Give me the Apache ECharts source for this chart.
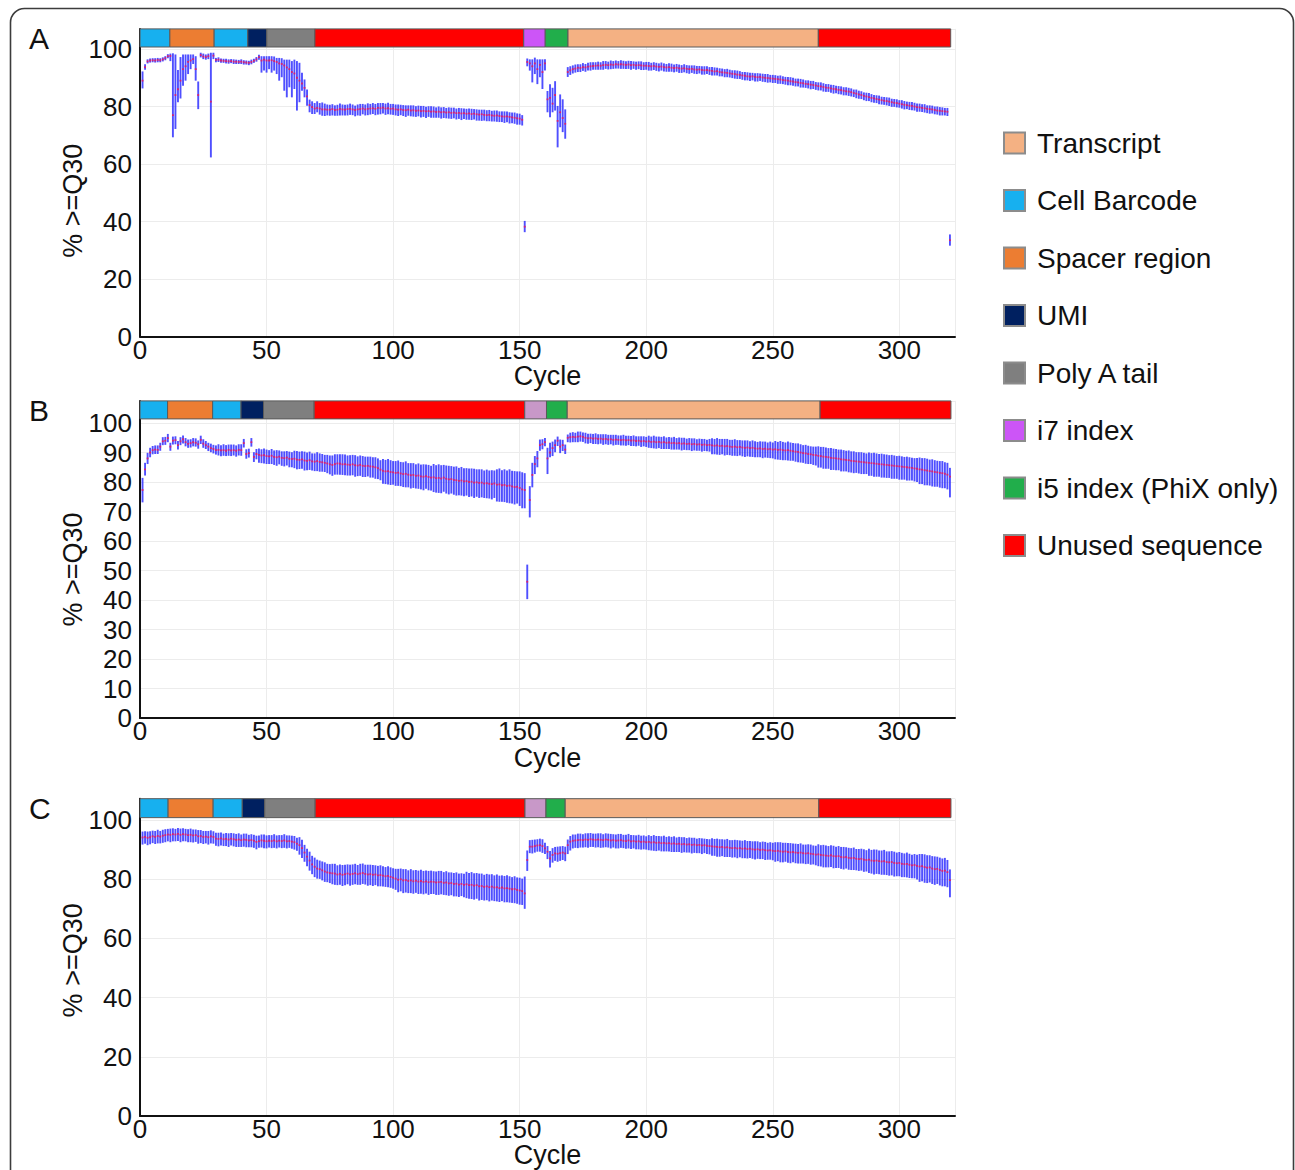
<!DOCTYPE html>
<html>
<head>
<meta charset="utf-8">
<script src="https://cdn.jsdelivr.net/npm/echarts@6/dist/echarts.min.js"></script>
<style>
  html, body { margin: 0; padding: 0; background: #fff; }
  #chart { width: 1295px; height: 1170px; }
</style>
</head>
<body>
<div id="chart"></div>
<script>
// --- data: per cycle median, and distance up / down to the whisker ends ---

// Panel A
var aMid = [
  89, 93.7, 95.7, 96, 96.1, 96, 96.2, 96.1, 96.4, 96.8,
  97.5, 97.6, 77, 84, 86, 89, 93, 94, 95.5, 96,
  96.5, 93, 84, 97.9, 97.4, 97.2, 97.5, 81.7, 97.7, 96.2,
  96.3, 96, 95.9, 95.8, 95.7, 95.8, 95.6, 95.6, 95.5, 95.6,
  95.4, 95.3, 95.2, 95.5, 95.9, 96.4, 97.2, 96, 96.3, 96,
  96, 96.1, 95.8, 95.5, 95, 94.8, 94.3, 93.6, 93, 92,
  91.5, 90, 89, 88, 86.5, 83.5, 80.5, 79.8, 79.3, 79.5,
  79.3, 79, 79, 78.9, 78.9, 79.1, 78.8, 78.9, 79.2, 79,
  78.9, 79.1, 79.2, 79, 78.8, 79, 79.1, 79.3, 79, 79.2,
  79.3, 79.4, 79.2, 79.5, 79.4, 79.6, 79.3, 79.4, 79.2, 79.3,
  79, 78.9, 79, 78.8, 78.7, 78.9, 78.6, 78.7, 78.5, 78.6,
  78.4, 78.5, 78.3, 78.4, 78.2, 78.3, 78.1, 78.2, 78, 78.1,
  77.9, 78, 77.8, 77.9, 77.7, 77.8, 77.6, 77.7, 77.5, 77.6,
  77.4, 77.5, 77.3, 77.2, 77.3, 77.1, 77, 77.1, 76.9, 76.8,
  76.9, 76.7, 76.6, 76.5, 76.6, 76.4, 76.2, 76.1, 75.9, 75.8,
  75.4, 38.2, 95.5, 95, 94, 95, 93, 94.5, 92, 95,
  82.5, 83, 81, 84, 75, 78, 76, 74, 92, 92.6,
  93, 93.2, 93.5, 93.4, 93.7, 93.6, 93.9, 94, 94.1, 94.2,
  94.3, 94.2, 94.4, 94.5, 94.4, 94.6, 94.5, 94.7, 94.6, 94.7,
  94.6, 94.5, 94.6, 94.4, 94.5, 94.3, 94.4, 94.3, 94.2, 94.2,
  94.1, 94, 94.1, 93.9, 93.8, 93.9, 93.7, 93.6, 93.7, 93.5,
  93.4, 93.5, 93.3, 93.2, 93.3, 93.1, 93, 93.1, 92.9, 92.8,
  92.9, 92.7, 92.6, 92.7, 92.5, 92.4, 92.2, 92.3, 92, 91.9,
  91.8, 91.7, 91.5, 91.4, 91.3, 91.1, 91, 90.8, 90.7, 90.5,
  90.4, 90.5, 90.3, 90.2, 90.3, 90.1, 90, 89.9, 89.8, 89.7,
  89.6, 89.5, 89.4, 89.2, 89.1, 89, 88.8, 88.7, 88.5, 88.4,
  88.2, 88.1, 87.9, 87.8, 87.6, 87.5, 87.3, 87.1, 87, 86.8,
  86.6, 86.5, 86.3, 86.1, 86, 85.8, 85.7, 85.5, 85.3, 85.2,
  85, 84.7, 84.5, 84.2, 84, 83.7, 83.5, 83.3, 83, 82.8,
  82.6, 82.4, 82.2, 82, 81.9, 81.7, 81.5, 81.3, 81.2, 81,
  80.8, 80.6, 80.5, 80.3, 80.2, 80, 79.8, 79.7, 79.5, 79.4,
  79.2, 79.1, 79, 78.8, 78.6, 78.5, 78.4, 78.3, 78.2, 33.5
];
var aUp = [
  3.0,0.8,0.5,0.5,0.5,0.6,0.5,0.5,0.5,0.5, 0.5,0.6,21.3,13.9,6.5,8.0,4.9,3.9,2.4,1.9,
  1.4,4.3,4.5,0.6,0.8,0.7,0.7,16.8,0.8,0.5, 0.6,0.5,0.5,0.6,0.5,0.5,0.6,0.5,0.5,0.6,
  0.5,0.5,0.5,0.6,0.5,0.6,0.6,1.3,1.0,1.3, 1.3,1.2,1.4,1.2,1.7,1.8,1.8,2.5,3.1,3.6,
  4.6,5.6,6.0,3.5,2.7,2.2,1.7,1.8,1.7,2.1, 1.7,2.2,1.8,1.6,1.5,1.5,1.4,1.5,1.6,1.5,
  1.5,1.4,1.6,1.5,1.3,1.5,1.6,1.4,1.5,1.7, 1.4,1.6,1.5,1.5,1.6,1.4,1.5,1.7,1.5,1.4,
  1.5,1.6,1.4,1.5,1.5,1.3,1.6,1.5,1.4,1.5, 1.6,1.5,1.4,1.5,1.7,1.5,1.4,1.6,1.5,1.5,
  1.4,1.5,1.6,1.5,1.4,1.5,1.6,1.4,1.5,1.5, 1.6,1.4,1.5,1.5,1.4,1.6,1.5,1.5,1.4,1.6,
  1.5,1.4,1.5,1.6,1.5,1.4,1.5,1.6,1.5,1.5, 1.4,1.8,1.0,1.2,2.2,1.8,3.2,1.7,4.2,1.2,
  2.7,4.5,5.3,4.6,5.0,6.0,6.3,4.8,1.5,1.2, 1.1,1.2,1.0,1.1,1.2,1.0,1.1,1.2,1.1,1.0,
  1.1,1.0,1.2,1.1,1.0,1.2,1.1,1.1,1.0,1.2, 1.1,1.0,1.1,1.2,1.0,1.1,1.1,1.2,1.0,1.1,
  1.2,1.0,1.1,1.1,1.0,1.2,1.1,1.0,1.1,1.2, 1.0,1.1,1.1,1.0,1.2,1.1,1.1,1.0,1.2,1.1,
  1.0,1.1,1.2,1.1,1.0,1.1,1.2,1.0,1.1,1.1, 1.0,1.2,1.1,1.0,1.1,1.2,1.1,1.0,1.1,1.2,
  1.1,1.0,1.1,1.2,1.0,1.1,1.1,1.2,1.0,1.1, 1.1,1.0,1.2,1.1,1.0,1.1,1.2,1.1,1.0,1.1,
  1.2,1.1,1.0,1.1,1.1,1.2,1.0,1.1,1.2,1.1, 1.0,1.1,1.1,1.2,1.0,1.1,1.1,1.0,1.2,1.1,
  1.1,1.0,1.2,1.1,1.1,1.0,1.1,1.2,1.1,1.0, 1.1,1.2,1.0,1.1,1.1,1.2,1.0,1.1,1.1,1.0,
  1.2,1.1,1.0,1.1,1.2,1.1,1.0,1.1,1.1,1.2, 1.0,1.1,1.1,1.0,1.2,1.1,1.1,1.0,1.1,1.8
];
var aDn = [
  2.5,0.7,0.5,0.5,0.5,0.5,0.6,0.5,0.5,0.5, 0.5,1.6,7.5,11.6,4.3,6.0,5.6,4.8,4.0,2.8,
  1.5,3.8,4.7,0.6,0.7,0.7,0.8,19.2,1.0,0.6, 0.6,0.6,0.5,0.6,0.6,0.5,0.6,0.6,0.5,0.6,
  0.6,0.5,0.6,0.6,0.5,0.6,0.7,4.0,3.6,4.0, 2.8,4.1,3.1,4.0,5.8,4.4,8.6,10.2,6.1,8.6,
  5.2,11.2,7.3,2.3,3.1,3.0,2.3,2.2,1.7,1.3, 1.9,2.0,2.1,1.8,1.9,2.0,1.8,1.9,2.1,1.9,
  1.8,2.0,1.9,1.8,2.0,1.9,2.1,1.8,1.9,2.0, 1.9,1.8,2.0,2.1,1.9,1.8,2.0,1.9,1.8,2.0,
  1.9,2.0,1.8,1.9,2.1,1.9,1.8,2.0,1.9,1.8, 2.0,1.9,2.1,1.8,1.9,2.0,1.8,1.9,2.0,1.9,
  1.8,2.0,1.9,1.8,2.0,1.9,2.1,1.8,1.9,2.0, 1.9,1.8,2.0,1.9,2.1,1.8,1.9,2.0,1.9,1.8,
  2.0,1.9,1.8,2.0,1.9,2.1,1.8,1.9,2.0,1.9, 1.8,1.7,1.3,2.3,5.4,3.5,5.0,4.1,5.7,2.3,
  4.3,6.5,2.8,5.2,9.0,5.0,4.7,5.0,1.5,1.4, 1.3,1.2,1.3,1.2,1.1,1.3,1.2,1.3,1.1,1.2,
  1.3,1.2,1.4,1.2,1.3,1.4,1.2,1.3,1.2,1.4, 1.3,1.2,1.3,1.4,1.2,1.3,1.2,1.4,1.3,1.2,
  1.4,1.3,1.2,1.3,1.4,1.2,1.3,1.3,1.4,1.2, 1.3,1.2,1.4,1.3,1.2,1.3,1.4,1.2,1.3,1.3,
  1.2,1.4,1.3,1.2,1.3,1.4,1.2,1.3,1.3,1.2, 1.4,1.3,1.2,1.3,1.4,1.3,1.2,1.3,1.4,1.2,
  1.3,1.2,1.4,1.3,1.2,1.3,1.3,1.4,1.2,1.3, 1.2,1.4,1.3,1.2,1.3,1.4,1.2,1.3,1.3,1.2,
  1.4,1.3,1.2,1.3,1.4,1.2,1.3,1.3,1.2,1.4, 1.3,1.2,1.3,1.4,1.2,1.3,1.3,1.4,1.2,1.3,
  1.3,1.2,1.4,1.3,1.2,1.3,1.4,1.2,1.3,1.3, 1.2,1.4,1.3,1.2,1.3,1.3,1.4,1.2,1.3,1.2,
  1.3,1.4,1.2,1.3,1.3,1.2,1.4,1.3,1.2,1.3, 1.3,1.4,1.2,1.3,1.2,1.4,1.3,1.2,1.3,1.7
];

// Panel B
var bMid = [
  77.3, 84.3, 88, 90, 90.8, 91, 90.9, 92, 93.8, 94,
  94.9, 92, 94, 94.2, 92.5, 93.8, 94.5, 93.5, 92.9, 93.2,
  93.5, 93.3, 92.8, 94.3, 93, 92.5, 92, 91.5, 91.2, 90.8,
  90.9, 90.7, 90.8, 90.6, 90.9, 90.7, 90.8, 90.6, 90.9, 90.8,
  93.2, 89.5, 89.8, 93.5, 88.5, 89.5, 89.2, 89, 89.1, 88.8,
  88.7, 88.9, 88.5, 88.4, 88.6, 88.2, 88.1, 88.3, 87.9, 87.8,
  87.9, 87.6, 87.5, 87.7, 87.3, 87.2, 87.4, 87, 86.9, 87.1,
  86.8, 86.7, 86.5, 86.3, 86, 85.8, 86.1, 86.3, 86.2, 86,
  86.1, 85.9, 85.8, 86, 85.7, 85.6, 85.8, 85.5, 85.4, 85.5,
  85.3, 85.2, 85, 84.7, 84.2, 83.8, 83.6, 83.7, 83.4, 83.3,
  83.1, 83.2, 82.9, 82.7, 82.8, 82.5, 82.3, 82.4, 82.1, 82.2,
  81.9, 81.8, 82, 81.7, 81.5, 81.6, 81.3, 81.4, 81.2, 81.5,
  81.1, 80.9, 81, 80.7, 80.6, 80.4, 80.5, 80.2, 80.3, 80,
  80.1, 79.8, 79.9, 79.7, 79.8, 79.5, 79.6, 79.4, 79.3, 79.5,
  79.1, 79.2, 78.9, 79, 78.7, 78.8, 78.5, 78.3, 78.4, 78,
  77.5, 77.3, 46.2, 73.9, 82.4, 86.1, 88, 92.5, 92.8, 93.5,
  88, 90, 91.5, 92.5, 94, 92, 92.5, 91, 95, 95.2,
  95.3, 95.2, 95.4, 95.5, 95.3, 95, 94.8, 94.9, 94.7, 94.8,
  94.6, 94.7, 94.5, 94.6, 94.4, 94.5, 94.3, 94.4, 94.3, 94.2,
  94.3, 94.1, 94.2, 94, 94.1, 93.9, 94, 93.8, 93.9, 93.7,
  93.8, 93.6, 93.7, 93.5, 93.6, 93.4, 93.5, 93.3, 93.4, 93.2,
  93.3, 93.1, 93.2, 93, 93.1, 92.9, 93, 92.8, 92.9, 92.7,
  92.8, 92.6, 92.7, 92.5, 92.6, 92.4, 92.3, 92.4, 92.2, 92.3,
  92.1, 92.2, 92, 91.9, 92, 91.8, 91.9, 91.7, 91.6, 91.7,
  91.5, 91.6, 91.4, 91.3, 91.4, 91.2, 91.3, 91.1, 91.2, 91,
  91.1, 90.9, 91, 90.8, 90.7, 90.8, 90.6, 90.5, 90.3, 90.2,
  90, 89.8, 89.7, 89.5, 89.4, 89.2, 89.1, 88.9, 88.8, 88.6,
  88.5, 88.4, 88.2, 88.1, 88, 87.9, 87.7, 87.6, 87.5, 87.4,
  87.2, 87.1, 87, 86.9, 86.8, 86.7, 86.6, 86.5, 86.4, 86.3,
  86.2, 86.1, 86, 85.9, 85.8, 85.7, 85.6, 85.5, 85.4, 85.3,
  85.2, 85.1, 85, 84.9, 84.8, 84.6, 84.5, 84.3, 84.2, 84,
  83.9, 83.7, 83.6, 83.4, 83.3, 83.1, 83, 82.8, 82.5, 81.8
];
var bUp = [
  3.9,2.0,1.7,1.4,1.2,1.2,1.3,1.1,1.2,1.1, 1.2,1.1,1.2,1.1,1.2,1.2,1.1,1.2,1.3,1.1,
  1.2,1.3,1.1,1.2,1.3,1.2,1.1,1.3,1.2,1.4, 1.7,1.6,1.8,1.7,1.6,1.8,1.7,1.6,1.7,1.8,
  1.2,1.4,1.3,1.2,1.4,1.5,2.0,1.9,2.1,2.0, 1.9,2.1,2.0,2.2,1.9,2.0,2.1,2.0,2.2,2.1,
  2.5,2.7,2.6,2.5,2.8,2.6,2.7,2.5,2.6,2.8, 2.7,2.6,2.5,2.7,2.8,3.0,3.1,2.9,3.0,3.2,
  3.0,2.9,3.1,3.0,3.2,2.9,3.0,3.1,3.0,2.9, 3.1,3.0,3.2,3.1,3.0,3.8,3.7,3.9,3.8,3.6,
  3.8,3.9,3.7,3.8,4.0,3.7,3.9,3.8,3.7,3.9, 3.8,4.0,3.7,3.9,3.8,4.3,4.2,4.4,4.3,4.1,
  4.3,4.4,4.2,4.3,4.5,4.2,4.4,4.3,4.2,4.4, 4.3,4.5,4.2,4.4,4.3,4.2,4.4,4.3,4.5,4.2,
  5.0,5.2,4.9,5.1,5.0,5.3,5.1,5.2,5.0,5.4, 5.6,5.5,5.6,4.5,3.9,2.5,2.3,1.7,1.5,1.2,
  3.4,3.1,2.0,1.7,1.2,2.2,1.6,1.5,0.9,1.3, 1.4,1.3,1.5,1.4,1.3,1.5,1.4,1.3,1.4,1.5,
  1.4,1.3,1.5,1.4,1.4,1.3,1.5,1.4,1.3,1.4, 1.5,1.4,1.3,1.4,1.5,1.4,1.3,1.5,1.4,1.4,
  1.7,1.6,1.8,1.7,1.6,1.7,1.8,1.6,1.7,1.7, 1.8,1.6,1.7,1.8,1.7,1.6,1.7,1.8,1.7,1.6,
  1.7,1.8,1.7,1.6,1.8,2.2,2.1,2.3,2.2,2.1, 2.3,2.2,2.1,2.2,2.3,2.2,2.1,2.2,2.3,2.2,
  2.1,2.3,2.2,2.1,2.2,2.3,2.2,2.1,2.3,2.2, 2.6,2.5,2.7,2.6,2.5,2.7,2.6,2.5,2.6,2.7,
  2.6,2.5,2.7,2.6,2.5,2.6,2.7,3.0,2.9,3.1, 3.0,2.9,3.1,3.0,3.0,2.9,3.1,3.0,2.9,3.1,
  3.0,3.1,2.9,3.0,3.1,3.0,2.9,3.3,3.2,3.4, 3.3,3.2,3.4,3.3,3.3,3.2,3.4,3.3,3.2,3.4,
  3.3,3.2,3.4,3.3,3.2,3.3,3.4,3.8,3.7,3.9, 3.8,3.7,3.9,3.8,3.7,3.8,3.9,3.7,3.8,2.8
];
var bDn = [
  4.0,1.9,1.7,1.4,1.2,1.3,1.2,1.2,1.1,1.2, 1.2,1.2,1.1,1.2,1.3,1.1,1.2,1.2,1.1,1.3,
  1.2,1.1,1.3,1.2,1.2,1.1,1.3,1.2,1.3,1.3, 1.7,1.8,1.7,1.6,1.8,1.7,1.6,1.8,1.7,1.7,
  1.3,1.4,1.3,1.3,1.5,1.6,2.5,2.4,2.6,2.5, 2.4,2.6,2.5,2.7,2.4,2.5,2.6,2.5,2.7,2.6,
  3.0,3.1,2.9,3.0,3.2,3.0,3.1,2.9,3.0,3.2, 3.1,3.0,2.9,3.1,3.2,3.5,3.4,3.6,3.5,3.4,
  3.6,3.5,3.4,3.5,3.7,3.4,3.5,3.6,3.5,3.4, 3.6,3.5,3.7,3.5,3.4,4.2,4.1,4.3,4.2,4.0,
  4.2,4.3,4.1,4.2,4.4,4.1,4.3,4.2,4.1,4.3, 4.2,4.4,4.1,4.3,4.2,4.8,4.7,4.9,4.8,4.6,
  4.8,4.9,4.7,4.8,5.0,4.7,4.9,4.8,4.7,4.9, 4.8,5.0,4.7,4.9,4.8,4.7,4.9,4.8,5.0,4.7,
  5.5,5.7,5.4,5.6,5.5,5.8,5.6,5.7,5.5,5.9, 6.2,6.0,5.7,5.7,4.0,3.2,2.8,1.7,1.5,1.2,
  5.1,1.4,2.5,2.2,1.6,2.0,1.8,1.3,1.3,1.6, 1.6,1.5,1.7,1.6,1.5,1.7,1.6,1.5,1.6,1.7,
  1.6,1.5,1.7,1.6,1.6,1.5,1.7,1.6,1.5,1.6, 1.7,1.6,1.5,1.6,1.7,1.6,1.5,1.7,1.6,1.6,
  2.0,1.9,2.1,2.0,1.9,2.0,2.1,1.9,2.0,2.0, 2.1,1.9,2.0,2.1,2.0,1.9,2.0,2.1,2.0,1.9,
  2.0,2.1,2.0,1.9,2.1,2.8,2.7,2.9,2.8,2.7, 2.9,2.8,2.7,2.8,2.9,2.8,2.7,2.8,2.9,2.8,
  2.7,2.9,2.8,2.7,2.8,2.9,2.8,2.7,2.9,2.8, 3.2,3.1,3.3,3.2,3.1,3.3,3.2,3.1,3.2,3.3,
  3.2,3.1,3.3,3.2,3.1,3.2,3.3,3.8,3.7,3.9, 3.8,3.7,3.9,3.8,3.8,3.7,3.9,3.8,3.7,3.9,
  3.8,3.9,3.7,3.8,3.9,3.8,3.7,4.2,4.1,4.3, 4.2,4.1,4.3,4.2,4.2,4.1,4.3,4.2,4.1,4.3,
  4.2,4.1,4.3,4.2,4.1,4.2,4.3,4.8,4.7,4.9, 4.8,4.7,4.9,4.8,4.7,4.8,4.9,4.7,4.8,6.8
];

// Panel C
var cMid = [
  94.1, 94.3, 94, 94.2, 94.5, 94.3, 94.6, 94.4, 94.7, 94.9,
  95.1, 95, 95.2, 95.1, 95.3, 95, 95.2, 95.1, 94.9, 95,
  94.8, 94.9, 94.5, 94.6, 94.3, 94.4, 94.2, 94.5, 94.3, 93.7,
  93.6, 93.8, 93.5, 93.6, 93.4, 93.7, 93.5, 93.3, 93.4, 93.2,
  93.4, 93.3, 93.1, 93.2, 93, 92.6, 92.9, 93.1, 93, 92.8,
  93, 92.9, 93.1, 92.8, 93, 92.9, 93.1, 92.8, 92.9, 92.7,
  92.5, 92, 91.5, 90.5, 89, 87.6, 86.3, 85, 84.2, 83.6,
  83.4, 83, 82.6, 82.3, 82.1, 82, 81.9, 81.6, 81.8, 81.5,
  81.7, 81.9, 81.6, 81.8, 82, 81.7, 81.9, 82.1, 81.8, 81.6,
  81.7, 81.5, 81.6, 81.3, 81.4, 81.2, 81, 81.1, 80.8, 80.5,
  80.2, 79.8, 80, 79.6, 79.7, 79.4, 79.6, 79.3, 79.5, 79.2,
  79.4, 79.1, 79.3, 79, 79.2, 79.1, 78.9, 79, 79.1, 78.8,
  78.9, 78.6, 78.7, 78.4, 78.5, 78.2, 78.4, 78.1, 78.3, 78,
  78.1, 77.8, 78, 77.6, 77.7, 77.4, 77.6, 77.3, 77.5, 77.2,
  77.3, 77, 77.2, 76.9, 77, 76.8, 76.6, 76.7, 76.4, 76.2,
  76, 75.2, 86.5, 91, 91, 91.2, 91.4, 91.5, 91.2, 90.4,
  89.3, 87, 88.2, 88.7, 88.6, 88.8, 89, 88.7, 91.5, 92.7,
  93, 93.1, 93.2, 93.3, 93.2, 93.4, 93.3, 93.5, 93.4, 93.3,
  93.4, 93.3, 93.2, 93.4, 93.3, 93.1, 93.2, 93, 93.1, 93.2,
  93, 92.9, 93.1, 92.8, 92.9, 92.7, 92.8, 92.6, 92.7, 92.5,
  92.6, 92.4, 92.5, 92.3, 92.4, 92.2, 92.3, 92.1, 92.2, 92,
  92.1, 91.9, 92, 91.8, 91.9, 91.7, 91.8, 91.6, 91.7, 91.5,
  91.6, 91.4, 91.5, 91.3, 91.2, 91.1, 91, 90.9, 90.8, 90.9,
  90.7, 90.8, 90.6, 90.5, 90.6, 90.4, 90.5, 90.3, 90.4, 90.2,
  90.3, 90.1, 90, 90.1, 89.9, 90, 89.8, 89.7, 89.8, 89.6,
  89.5, 89.6, 89.4, 89.3, 89.4, 89.2, 89.1, 89.2, 89, 88.9,
  89, 88.8, 88.7, 88.8, 88.6, 88.5, 88.3, 88.4, 88.2, 88.1,
  88, 87.9, 88.1, 87.8, 87.7, 87.8, 87.5, 87.4, 87.5, 87.2,
  87.1, 87.2, 86.9, 86.8, 86.9, 86.6, 86.5, 86.6, 86.3, 86.2,
  86.3, 86.1, 86, 86.1, 85.8, 85.7, 85.8, 85.5, 85.4, 85.5,
  85.2, 85.1, 85.2, 84.9, 84.7, 84.8, 84.5, 84.3, 84.4, 84.1,
  83.9, 84, 83.6, 83.4, 83.5, 83.1, 82.8, 82.9, 82.4, 79.7
];
var cUp = [
  1.8,1.7,1.9,1.8,1.7,1.8,1.9,1.7,1.8,1.8, 1.7,1.9,1.8,1.7,1.8,1.9,1.8,1.7,1.8,1.9,
  1.8,1.7,1.9,1.8,1.8,1.7,1.9,1.8,1.7,1.8, 1.9,1.8,1.7,1.8,1.9,1.7,1.8,1.8,1.9,1.7,
  1.8,1.9,1.7,1.8,1.8,1.9,1.7,1.8,1.9,1.8, 1.7,1.8,1.9,1.8,1.7,1.8,1.9,1.8,1.7,1.8,
  1.9,1.8,2.5,2.6,2.4,2.5,2.8,2.7,2.9,2.8, 2.7,2.8,2.9,2.7,2.8,3.0,3.1,2.9,3.0,3.1,
  3.0,2.9,3.1,3.0,3.0,2.9,3.1,3.0,2.9,3.1, 3.0,3.1,2.9,3.0,3.1,3.0,2.9,3.1,3.0,3.0,
  3.1,3.5,3.4,3.6,3.5,3.4,3.6,3.5,3.4,3.5, 3.6,3.5,3.4,3.6,3.5,3.4,3.5,3.6,3.5,3.4,
  3.6,3.5,3.4,3.5,3.6,3.5,3.4,3.5,4.0,3.9, 4.1,4.0,3.9,4.1,4.0,3.9,4.0,4.1,4.0,3.9,
  4.1,4.0,3.9,4.0,4.1,4.0,3.9,4.1,4.0,4.1, 4.0,5.5,3.0,2.0,2.1,2.0,1.9,2.0,2.1,1.7,
  1.7,2.3,2.1,2.0,2.2,2.1,2.0,2.1,1.7,1.7, 1.9,1.8,2.0,1.9,1.8,1.9,2.0,1.9,1.8,1.9,
  1.9,2.0,1.8,1.9,1.9,2.0,1.8,1.9,2.0,1.9, 1.8,1.9,2.0,1.9,1.8,1.9,2.0,1.9,1.9,1.8,
  2.1,2.0,2.2,2.1,2.0,2.1,2.2,2.0,2.1,2.1, 2.2,2.0,2.1,2.2,2.1,2.0,2.1,2.2,2.1,2.0,
  2.1,2.2,2.0,2.1,2.1,2.5,2.4,2.6,2.5,2.4, 2.5,2.6,2.4,2.5,2.5,2.6,2.4,2.5,2.6,2.5,
  2.4,2.5,2.6,2.5,2.4,2.5,2.6,2.4,2.5,2.5, 2.8,2.7,2.9,2.8,2.7,2.8,2.9,2.7,2.8,2.8,
  2.9,2.7,2.8,2.8,2.9,2.7,2.8,3.2,3.1,3.3, 3.2,3.1,3.2,3.3,3.1,3.2,3.2,3.3,3.1,3.2,
  3.2,3.3,3.1,3.2,3.2,3.3,3.1,3.5,3.4,3.6, 3.5,3.4,3.5,3.6,3.4,3.5,3.5,3.6,3.4,3.5,
  3.5,3.4,3.6,3.5,3.4,3.5,3.6,4.0,3.9,4.1, 4.0,3.9,4.0,4.1,3.9,4.0,4.0,4.1,3.9,3.4
];
var cDn = [
  2.2,2.1,2.3,2.2,2.1,2.2,2.3,2.1,2.2,2.2, 2.1,2.3,2.2,2.1,2.2,2.3,2.2,2.1,2.2,2.3,
  2.2,2.1,2.3,2.2,2.2,2.1,2.3,2.2,2.1,2.2, 2.3,2.2,2.1,2.2,2.3,2.1,2.2,2.2,2.3,2.1,
  2.2,2.3,2.1,2.2,2.2,2.3,2.1,2.2,2.3,2.2, 2.1,2.2,2.3,2.2,2.1,2.2,2.3,2.2,2.1,2.2,
  2.3,2.2,3.0,3.1,2.9,3.0,3.2,3.1,3.3,3.2, 3.1,3.2,3.3,3.1,3.2,3.5,3.6,3.4,3.5,3.6,
  3.5,3.4,3.6,3.5,3.5,3.4,3.6,3.5,3.4,3.6, 3.5,3.6,3.4,3.5,3.6,3.5,3.4,3.6,3.5,3.5,
  3.6,4.0,3.9,4.1,4.0,3.9,4.1,4.0,3.9,4.0, 4.1,4.0,3.9,4.1,4.0,3.9,4.0,4.1,4.0,3.9,
  4.1,4.0,3.9,4.0,4.1,4.0,3.9,4.0,4.5,4.4, 4.6,4.5,4.4,4.6,4.5,4.4,4.5,4.6,4.5,4.4,
  4.6,4.5,4.4,4.5,4.6,4.5,4.4,4.6,4.5,4.6, 4.5,5.0,3.5,2.0,2.1,2.0,1.9,2.0,2.1,1.7,
  2.3,2.8,2.4,2.3,2.5,2.4,2.3,2.4,2.8,2.8, 2.4,2.3,2.5,2.4,2.3,2.4,2.5,2.4,2.3,2.4,
  2.4,2.5,2.3,2.4,2.4,2.5,2.3,2.4,2.5,2.4, 2.3,2.4,2.5,2.4,2.3,2.4,2.5,2.4,2.4,2.3,
  2.6,2.5,2.7,2.6,2.5,2.6,2.7,2.5,2.6,2.6, 2.7,2.5,2.6,2.7,2.6,2.5,2.6,2.7,2.6,2.5,
  2.6,2.7,2.5,2.6,2.6,3.0,2.9,3.1,3.0,2.9, 3.0,3.1,2.9,3.0,3.0,3.1,2.9,3.0,3.1,3.0,
  2.9,3.0,3.1,3.0,2.9,3.0,3.1,2.9,3.0,3.0, 3.4,3.3,3.5,3.4,3.3,3.4,3.5,3.3,3.4,3.4,
  3.5,3.3,3.4,3.4,3.5,3.3,3.4,3.8,3.7,3.9, 3.8,3.7,3.8,3.9,3.7,3.8,3.8,3.9,3.7,3.8,
  3.8,3.9,3.7,3.8,3.8,3.9,3.7,4.3,4.2,4.4, 4.3,4.2,4.3,4.4,4.2,4.3,4.3,4.4,4.2,4.3,
  4.3,4.2,4.4,4.3,4.2,4.3,4.4,5.0,4.9,5.1, 5.0,4.9,5.0,5.1,4.9,5.0,5.0,5.1,4.9,5.6
];

// read layout bar (cycle edges) and what each piece is
var segNames = ['Cell Barcode', 'Spacer region', 'Cell Barcode', 'UMI', 'Poly A tail',
  'Unused sequence', 'i7 index', 'i5 index (PhiX only)', 'Transcript', 'Unused sequence'];
var aEdges = [0, 11.8, 29.3, 42.6, 50.1, 69.1, 151.6, 160.1, 169.1, 268, 320.3];
var bEdges = [0, 10.9, 28.7, 39.9, 48.8, 68.8, 152, 160.6, 168.8, 268.7, 320.4];
var cEdges = [0, 11.1, 28.9, 40.4, 49.3, 69.2, 152.1, 160.4, 168, 268.2, 320.4];

var legendNames = ['Transcript', 'Cell Barcode', 'Spacer region', 'UMI', 'Poly A tail',
  'i7 index', 'i5 index (PhiX only)', 'Unused sequence'];

// --- styles ---
var FONT = "'Liberation Sans', Arial, Helvetica, sans-serif";
var segColors = {
  'Transcript': '#f4b183',
  'Cell Barcode': '#17b0ef',
  'Spacer region': '#ec7d32',
  'UMI': '#002060',
  'Poly A tail': '#7f7f7f',
  'i7 index': '#cc55f7',
  'i5 index (PhiX only)': '#21ae4b',
  'Unused sequence': '#ff0000'
};

var panels = [
  { letter: 'A', mid: aMid, up: aUp, dn: aDn, edges: aEdges, top: 28.9, height: 307.6, yMax: 107, barLo: 100.7, yStep: 20, i7: '#cc55f7', xNameGap: 27, yNamePad: 36 },
  { letter: 'B', mid: bMid, up: bUp, dn: bDn, edges: bEdges, top: 400.9, height: 317.1, yMax: 107.5, barLo: 101.4, yStep: 10, i7: '#c898c8', xNameGap: 28, yNamePad: 20 },
  { letter: 'C', mid: cMid, up: cUp, dn: cDn, edges: cEdges, top: 798.7, height: 317.3, yMax: 107.2, barLo: 100.8, yStep: 20, i7: '#c898c8', xNameGap: 26.5, yNamePad: 6 }
];

var chart = echarts.init(document.getElementById('chart'), null, { renderer: 'svg' });

var grids = [], xAxes = [], yAxes = [], series = [], graphics = [];

// one whisker per cycle, with a red tick at the median
function renderCycle(params, api) {
  var x = api.value(0);
  var pMid = api.coord([x, api.value(1)]);
  var pLo = api.coord([x, api.value(2)]);
  var pHi = api.coord([x, api.value(3)]);
  return {
    type: 'group',
    children: [
      { type: 'line', shape: { x1: pLo[0], y1: pLo[1] + 0.6, x2: pHi[0], y2: pHi[1] - 0.6 },
        style: { stroke: 'rgba(40,40,255,0.82)', lineWidth: 1.9 } },
      { type: 'rect', shape: { x: pMid[0] - 0.9, y: pMid[1] - 0.9, width: 1.8, height: 1.8 },
        style: { fill: '#d8206e' } }
    ]
  };
}

panels.forEach(function (p, i) {
  grids.push({ left: 140, width: 815, top: p.top, height: p.height, outerBoundsMode: 'none', containLabel: false });

  xAxes.push({
    gridIndex: i, type: 'value', min: 0, max: 322, interval: 50,
    name: 'Cycle', nameLocation: 'middle', nameGap: p.xNameGap, nameMoveOverlap: false,
    nameTextStyle: { fontSize: 27, lineHeight: 24, color: '#111', fontFamily: FONT },
    axisLine: { onZero: false, lineStyle: { color: '#111', width: 2 } },
    axisTick: { show: false },
    axisLabel: {
      fontSize: 26, lineHeight: 24, color: '#111', fontFamily: FONT, margin: 1,
      formatter: function (v) { return v % 50 === 0 ? String(v) : ''; }
    },
    splitLine: { show: true, lineStyle: { color: '#ececec', width: 1 } }
  });

  yAxes.push({
    gridIndex: i, type: 'value', min: 0, max: p.yMax, interval: p.yStep,
    name: '% >=Q30', nameLocation: 'middle', nameGap: 54, nameMoveOverlap: false,
    nameTextStyle: { fontSize: 27, color: '#111', fontFamily: FONT, padding: [0, p.yNamePad, 0, 0] },
    axisLine: { show: true, lineStyle: { color: '#111', width: 2 } },
    axisTick: { show: false },
    axisLabel: {
      fontSize: 26, color: '#111', fontFamily: FONT, margin: 8,
      formatter: function (v) { return v % p.yStep === 0 ? String(v) : ''; }
    },
    splitLine: { show: true, lineStyle: { color: '#ececec', width: 1 } }
  });

  // whiskers
  var rows = p.mid.map(function (m, j) {
    return [j + 1, m, m - p.dn[j], m + p.up[j]];
  });
  series.push({
    type: 'custom', xAxisIndex: i, yAxisIndex: i, z: 3,
    renderItem: renderCycle, data: rows, silent: true
  });

  // read layout bar across the top
  var segRows = segNames.map(function (n, k) { return [p.edges[k], p.edges[k + 1], k]; });
  series.push({
    type: 'custom', xAxisIndex: i, yAxisIndex: i, z: 4, silent: true,
    data: segRows,
    renderItem: function (params, api) {
      var a = api.coord([api.value(0), p.yMax]);
      var b = api.coord([api.value(1), p.barLo]);
      var name = segNames[api.value(2)];
      var col = name === 'i7 index' ? p.i7 : segColors[name];
      return {
        type: 'rect',
        shape: { x: a[0], y: a[1], width: b[0] - a[0], height: b[1] - a[1] },
        style: { fill: col, stroke: '#5a5a5a', lineWidth: 1 }
      };
    }
  });

  graphics.push({
    type: 'text', left: 29, top: p.top - 5,
    style: { text: p.letter, fontSize: 30, fill: '#111', fontFamily: FONT }
  });
});

// empty series so the legend can show the region colours
legendNames.forEach(function (n) {
  series.push({
    type: 'scatter', name: n, xAxisIndex: 0, yAxisIndex: 0, data: [],
    itemStyle: { color: segColors[n], opacity: 1, borderColor: '#8c8c8c', borderWidth: 1 }
  });
});

graphics.push({
  type: 'rect', silent: true,
  shape: { x: 10.5, y: 8.5, width: 1283, height: 1200, r: 14 },
  style: { fill: 'none', stroke: '#3c3c3c', lineWidth: 1.6 }
});

chart.setOption({
  animation: false,
  backgroundColor: '#ffffff',
  textStyle: { fontFamily: FONT },
  grid: grids,
  xAxis: xAxes,
  yAxis: yAxes,
  legend: {
    orient: 'vertical', left: 1003, top: 129, padding: 0,
    icon: 'rect', itemWidth: 21, itemHeight: 21, itemGap: 29.5,
    selectedMode: false,
    itemStyle: { opacity: 1 },
    textStyle: { fontSize: 28, color: '#111', fontFamily: FONT, lineHeight: 27, padding: [0, 0, 0, 7] },
    data: legendNames
  },
  graphic: graphics,
  series: series
});
</script>
</body>
</html>
